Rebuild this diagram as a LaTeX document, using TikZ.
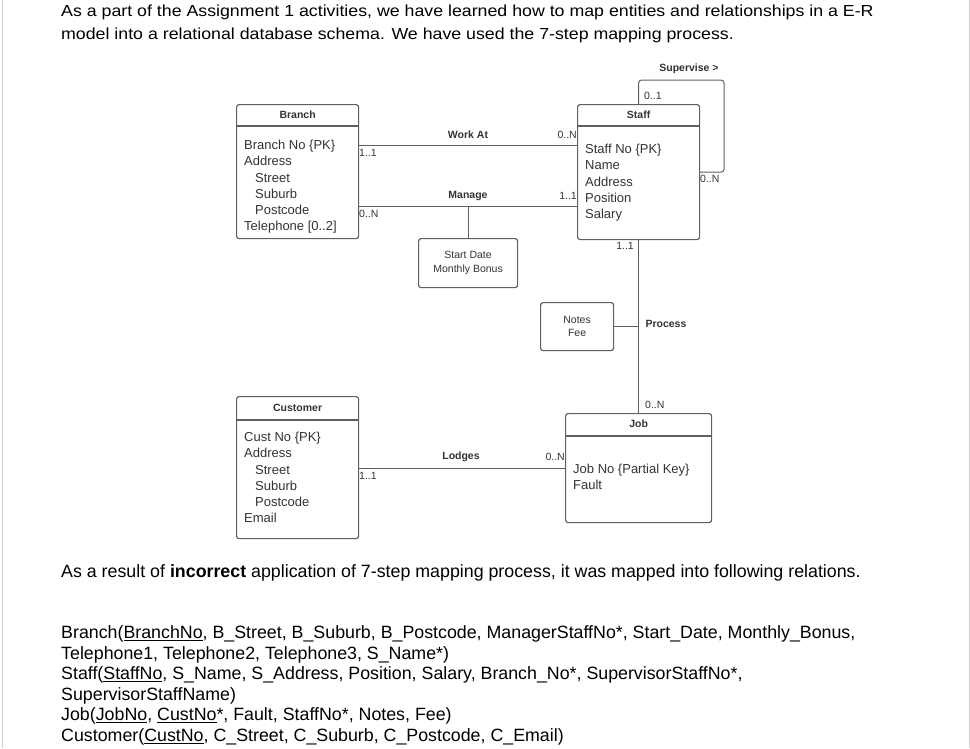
\documentclass[tikz,border=0pt]{standalone}
\usepackage{fontspec}
\setmainfont{Liberation Sans}
\newfontfamily\widesans[FakeStretch=1.11]{Liberation Sans}
\usetikzlibrary{positioning,calc}

\definecolor{linegray}{HTML}{606060}
\definecolor{txtgray}{HTML}{333333}
\definecolor{edgegray}{HTML}{D0D0D0}

\tikzset{
  entbox/.style={draw=linegray, line width=1.2pt, rounded corners=2.5pt, anchor=north west, inner sep=0pt},
  enttitle/.style={font=\fontsize{10.5}{12}\selectfont\bfseries, text=txtgray},
  attrtext/.style={font=\fontsize{13}{16.2}\selectfont, text=txtgray, align=left, anchor=north west, inner sep=0pt},
  boxtext/.style={font=\fontsize{10.5}{13.5}\selectfont, text=txtgray, align=center},
  relname/.style={font=\fontsize{10.5}{12}\selectfont\bfseries, text=txtgray},
  cardtext/.style={font=\fontsize{10.5}{12}\selectfont, text=txtgray, inner sep=0pt},
  connline/.style={draw=linegray, line width=1pt},
}

\begin{document}
\begin{tikzpicture}[x=1pt,y=-1pt]

\useasboundingbox (0,0) rectangle (970,748);
\draw[edgegray] (2,0) -- (2,748);
\draw[edgegray] (969,0) -- (969,748);

% text above the diagram
\node[anchor=base west, inner sep=0pt, align=left, font=\widesans\fontsize{16}{23}\selectfont] (intro) at (61,39)
  {As a part of the Assignment 1 activities, we have learned how to map entities and relationships in a E-R\\
   model into a relational database schema. We have used the 7-step mapping process.};

% entities
\node[entbox, minimum width=122pt, minimum height=134pt] (branch) at (236,104) {};
\draw[linegray, line width=1.2pt] ($(branch.north west)+(0,22)$) -- ($(branch.north east)+(0,22)$);
\node[enttitle] at ($(branch.north)+(0,11)$) {Branch};
\node[attrtext] (branchattr) at (244,140)
  {Branch No \{PK\}\\ Address\\ \hspace{11pt}Street\\ \hspace{11pt}Suburb\\ \hspace{11pt}Postcode\\ Telephone [0..2]};

\node[entbox, minimum width=122pt, minimum height=135pt] (staff) at (577,104) {};
\draw[linegray, line width=1.2pt] ($(staff.north west)+(0,22)$) -- ($(staff.north east)+(0,22)$);
\node[enttitle] at ($(staff.north)+(0,11)$) {Staff};
\node[attrtext] (staffattr) at (585,144)
  {Staff No \{PK\}\\ Name\\ Address\\ Position\\ Salary};

\node[entbox, minimum width=122pt, minimum height=142pt] (customer) at (236,396) {};
\draw[linegray, line width=1.2pt] ($(customer.north west)+(0,24)$) -- ($(customer.north east)+(0,24)$);
\node[enttitle] at ($(customer.north)+(0,11.5)$) {Customer};
\node[attrtext] (custattr) at (244,432)
  {Cust No \{PK\}\\ Address\\ \hspace{11pt}Street\\ \hspace{11pt}Suburb\\ \hspace{11pt}Postcode\\ Email};

\node[entbox, minimum width=146pt, minimum height=109pt] (job) at (565,413) {};
\draw[linegray, line width=1.2pt] ($(job.north west)+(0,23)$) -- ($(job.north east)+(0,23)$);
\node[enttitle] at ($(job.north)+(0,11)$) {Job};
\node[attrtext] (jobattr) at (573,464)
  {Job No \{Partial Key\}\\ Fault};

% attribute boxes of relationships
\node[entbox, minimum width=99pt, minimum height=49pt] (startdate) at (418,238) {};
\node[boxtext] at (startdate.center) {Start Date\\ Monthly Bonus};
\node[entbox, minimum width=73pt, minimum height=48pt] (notes) at (540,302) {};
\node[boxtext] at (notes.center) {Notes\\ Fee};

% relationships
\draw[connline] ($(branch.north east)+(0,41)$) -- ($(staff.north west)+(0,41)$);
\node[relname] (workat) at (468,135) {Work At};
\node[cardtext, anchor=west] at (359,153) {1..1};
\node[cardtext, anchor=east] at (577,135) {0..N};

\draw[connline] ($(branch.north east)+(0,102)$) -- ($(staff.north west)+(0,102)$);
\node[relname] (manage) at (468,196) {Manage};
\node[cardtext, anchor=east] at (577,196) {1..1};
\node[cardtext, anchor=west] at (359,214) {0..N};
\draw[connline] (startdate.north) -- ++(0,-32);

\coordinate (supcorner) at (724,80);
\draw[connline, rounded corners=3pt] (staff.north) |- (supcorner) |- (staff.east);
\node[relname] (supervise) at (689,69) {Supervise >};
\node[cardtext, anchor=west] at (644,96) {0..1};
\node[cardtext, anchor=west] at (700,179) {0..N};

\draw[connline] (staff.south) -- (job.north);
\draw[connline] (notes.east) -- (notes.east -| job.north);
\node[relname, anchor=west] (process) at (642,324) {Process};
\node[cardtext, anchor=east] at (634,246) {1..1};
\node[cardtext, anchor=west] at (645,405) {0..N};

\coordinate (lodgesL) at ($(customer.north east)+(0,72)$);
\draw[connline] (lodgesL) -- (lodgesL -| job.west);
\node[relname] (lodges) at (461,457) {Lodges};
\node[cardtext, anchor=west] at (359,476) {1..1};
\node[cardtext, anchor=east] at (565,457) {0..N};

% text below the diagram
\node[anchor=base west, inner sep=0pt, font=\fontsize{17.8}{20.6}\selectfont] (result) at (61,577)
  {As a result of \textbf{incorrect} application of 7-step mapping process, it was mapped into following relations.};

\node[anchor=base west, inner sep=0pt, align=left, font=\fontsize{17.8}{20.6}\selectfont] (relations) at (61,741.5)
  {Branch(\underline{BranchNo}, B\_Street, B\_Suburb, B\_Postcode, ManagerStaffNo*, Start\_Date, Monthly\_Bonus,\\
   Telephone1, Telephone2, Telephone3, S\_Name*)\\
   Staff(\underline{StaffNo}, S\_Name, S\_Address, Position, Salary, Branch\_No*, SupervisorStaffNo*,\\
   SupervisorStaffName)\\
   Job(\underline{JobNo}, \underline{CustNo}*, Fault, StaffNo*, Notes, Fee)\\
   Customer(\underline{CustNo}, C\_Street, C\_Suburb, C\_Postcode, C\_Email)};

\end{tikzpicture}
\end{document}
